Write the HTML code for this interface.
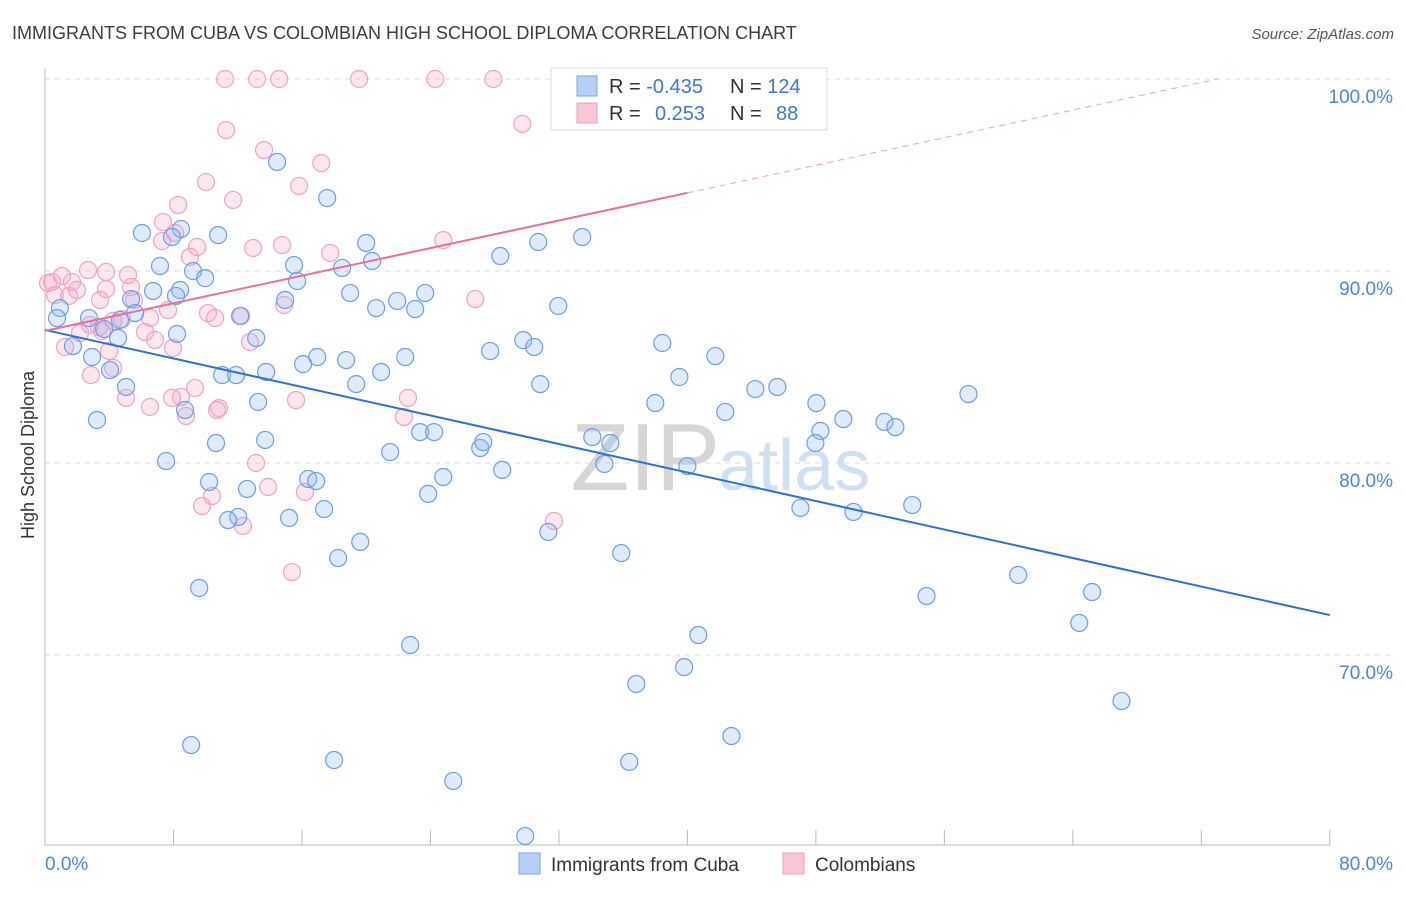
<!DOCTYPE html>
<html><head><meta charset="utf-8"><style>
body{margin:0;background:#fff;font-family:"Liberation Sans",sans-serif;}
svg text{font-family:"Liberation Sans",sans-serif;}
</style></head><body>
<svg id="chart" width="1406" height="892" xmlns="http://www.w3.org/2000/svg">
<text x="12" y="39" font-size="18" fill="#3c3c3c">IMMIGRANTS FROM CUBA VS COLOMBIAN HIGH SCHOOL DIPLOMA CORRELATION CHART</text>
<text x="1394" y="39" font-size="15" fill="#555" font-style="italic" text-anchor="end">Source: ZipAtlas.com</text>
<text transform="translate(34,455) rotate(-90)" font-size="18" fill="#333" text-anchor="middle">High School Diploma</text>
<text x="720" y="490" font-size="96" fill="#d6d6d6" text-anchor="end" font-family="Liberation Serif">ZIP</text>
<text x="718" y="490" font-size="72" fill="#cfe0f3">atlas</text>
<g id="grid"></g><g id="ticks"></g><g id="pts"></g><g id="lines"></g>
<g>
<rect x="551" y="68" width="276" height="62" fill="#fff" stroke="#ddd"/>
<rect x="577" y="76" width="20" height="20" fill="#b6d0f5" stroke="#7ba6e6"/>
<rect x="577" y="103" width="20" height="20" fill="#f9c6d6" stroke="#eea0bb"/>
<text x="609" y="93" font-size="20" fill="#333">R = <tspan fill="#3b78d8">-0.435</tspan></text>
<text x="730" y="93" font-size="20" fill="#333">N = <tspan fill="#3b78d8">124</tspan></text>
<text x="609" y="120" font-size="20" fill="#333">R = </text><text x="655" y="120" font-size="20" fill="#3b78d8">0.253</text>
<text x="730" y="120" font-size="20" fill="#333">N = </text><text x="776" y="120" font-size="20" fill="#3b78d8">88</text>
</g>
<g>
<rect x="519" y="853" width="21" height="21" fill="#b6d0f5" stroke="#7ba6e6"/>
<text x="551" y="871" font-size="19" fill="#333">Immigrants from Cuba</text>
<rect x="783" y="853" width="21" height="21" fill="#f9c6d6" stroke="#eea0bb"/>
<text x="815" y="871" font-size="19" fill="#333">Colombians</text>
</g>
</svg>
<script>
const blueX=[14.45,17.57,6.04,8.47,10.78,7.91,20.0,20.37,15.51,9.22,9.97,7.16,15.7,18.5,28.35,30.71,33.45,19.0,20.62,21.93,23.67,23.05,14.95,31.96,8.41,6.73,8.16,5.36,5.61,12.15,13.15,4.67,8.22,2.74,3.68,0.93,0.75,1.74,2.93,4.55,4.05,27.72,29.78,30.46,38.44,41.74,16.95,18.75,22.43,16.07,13.77,11.03,11.9,5.05,19.38,20.93,30.84,39.5,44.23,45.6,57.5,48.03,8.72,13.27,3.24,38.0,42.36,49.71,52.27,52.95,48.28,47.97,34.08,35.2,23.36,24.23,27.1,27.29,10.65,13.71,21.49,7.54,34.83,28.47,40.0,10.22,16.39,16.88,24.8,23.86,12.58,47.04,54.0,50.34,17.38,15.2,12.03,11.4,31.34,19.63,18.25,35.88,9.6,54.89,60.6,65.2,64.4,40.68,22.74,39.8,36.82,67.03,9.1,42.74,18.0,36.38,25.42,29.9];
const blueY=[95.68,93.8,91.98,92.19,91.87,91.77,91.46,90.52,90.31,90.0,89.63,90.26,89.48,90.16,90.78,91.51,91.77,88.85,88.07,88.44,88.85,88.02,88.49,88.18,89.01,88.96,88.7,88.54,87.81,87.66,86.51,87.45,86.72,87.55,86.98,88.07,87.55,86.09,85.52,86.51,84.84,85.83,86.4,86.04,86.25,85.57,85.52,85.36,85.52,85.15,84.74,84.58,84.58,83.96,84.11,84.74,84.11,84.48,83.85,83.96,83.59,83.12,82.76,83.18,82.24,83.12,82.66,82.29,82.14,81.87,81.67,81.04,81.35,81.04,81.61,81.61,80.78,81.09,81.04,81.2,80.57,80.1,79.95,79.64,79.84,79.01,79.17,79.06,79.27,78.39,78.65,77.66,77.81,77.45,77.6,77.14,77.19,77.03,76.41,75.89,75.05,75.31,73.49,73.07,74.17,73.28,71.67,71.04,70.52,69.37,68.49,67.6,65.31,65.78,64.53,64.43,63.44,60.57];
const pinkX=[11.21,13.21,14.58,19.56,24.3,27.91,32.7,11.28,29.72,13.64,17.2,10.03,15.82,11.71,8.29,7.35,8.1,7.29,9.47,12.96,14.76,24.8,17.76,9.03,3.8,2.68,1.06,0.19,1.68,5.17,5.36,3.8,1.99,0.62,1.5,0.44,3.43,5.54,7.66,10.15,10.59,12.21,14.89,26.79,6.54,6.23,4.8,3.36,4.24,3.55,2.8,2.18,12.77,7.97,6.85,1.25,3.99,2.86,4.24,5.05,7.91,8.47,9.34,6.54,8.78,10.83,10.71,15.63,22.6,22.35,13.14,13.89,10.4,9.78,16.19,12.33,31.69,15.38];
const pinkY=[100,100,100,100,100,100,100,97.34,97.66,96.3,95.62,94.63,94.43,93.7,93.44,92.55,91.98,91.56,91.25,91.2,91.35,91.61,90.94,90.73,89.95,90.05,89.74,89.37,89.43,89.79,89.17,89.06,89.01,88.75,88.7,89.43,88.49,88.49,87.97,87.81,87.55,87.66,88.23,88.54,87.55,86.82,87.5,87.08,87.4,86.87,87.19,86.77,86.3,85.99,86.41,86.04,85.83,84.58,84.95,83.39,83.39,83.44,83.91,82.92,82.45,82.86,82.76,83.28,83.39,82.4,80.0,78.75,78.28,77.76,78.49,76.72,76.98,74.32];
const yTicks=[100,90,80,70];
const yTickLabels=["100.0%","90.0%","80.0%","70.0%"];
const blueTrend=[86.93,72.08];
const pinkTrend=[86.88,100];
const NS="http://www.w3.org/2000/svg";
const sx=v=>45+v*16.06, sy=v=>79+(100-v)*19.2;
function mk(tag,attrs,parent){const e=document.createElementNS(NS,tag);for(const k in attrs)e.setAttribute(k,attrs[k]);document.getElementById(parent).appendChild(e);return e;}
yTicks.forEach((t,i)=>{
 const g=mk('line',{x1:45,x2:1394,y1:sy(t),y2:sy(t),stroke:'#d8d8d8','stroke-dasharray':'5,5'},'grid');
 
 
 const l=mk('text',{x:1393,y:sy(t)+24,'font-size':19,fill:'#4a86dc','text-anchor':'end'},'grid');
 l.textContent=yTickLabels[i];
 
 
});
mk('line',{x1:45,x2:45,y1:68,y2:845,stroke:'#bbb'},'ticks');
mk('line',{x1:45,x2:1330,y1:845,y2:845,stroke:'#bbb'},'ticks');
for(let i=0;i<=10;i++){const t=mk('line',{x1:sx(i*8),x2:sx(i*8),y1:830,y2:845,stroke:'#bbb'},'ticks');
 
 }
const x0=mk('text',{x:45,y:870,'font-size':19,fill:'#4a86dc'},'ticks');x0.textContent='0.0%';


const x1=mk('text',{x:1393,y:870,'font-size':19,fill:'#4a86dc','text-anchor':'end'},'ticks');x1.textContent='80.0%';


pinkX.forEach((x,i)=>{const c=mk('circle',{cx:sx(x),cy:sy(pinkY[i]),r:8.5,fill:'rgba(246,170,196,0.28)',stroke:'#f0a3be','stroke-width':1.2},'pts');
 
 });
blueX.forEach((x,i)=>{const c=mk('circle',{cx:sx(x),cy:sy(blueY[i]),r:8.5,fill:'rgba(150,185,240,0.3)',stroke:'#6d9fe4','stroke-width':1.2},'pts');
 
 });
const bl=mk('line',{x1:sx(0),y1:sy(blueTrend[0]),x2:sx(80),y2:sy(blueTrend[1]),stroke:'#2f6fd6','stroke-width':2},'lines');


const pSlope=(pinkTrend[1]-pinkTrend[0])/73;
const pl=mk('line',{x1:sx(0),y1:sy(pinkTrend[0]),x2:sx(40),y2:sy(pinkTrend[0]+pSlope*40),stroke:'#e8709a','stroke-width':2},'lines');


const pd=mk('line',{x1:sx(40),y1:sy(pinkTrend[0]+pSlope*40),x2:sx(73),y2:sy(pinkTrend[1]),stroke:'#eba0ba','stroke-width':1,'stroke-dasharray':'6,5'},'lines');


</script>
</body></html>
